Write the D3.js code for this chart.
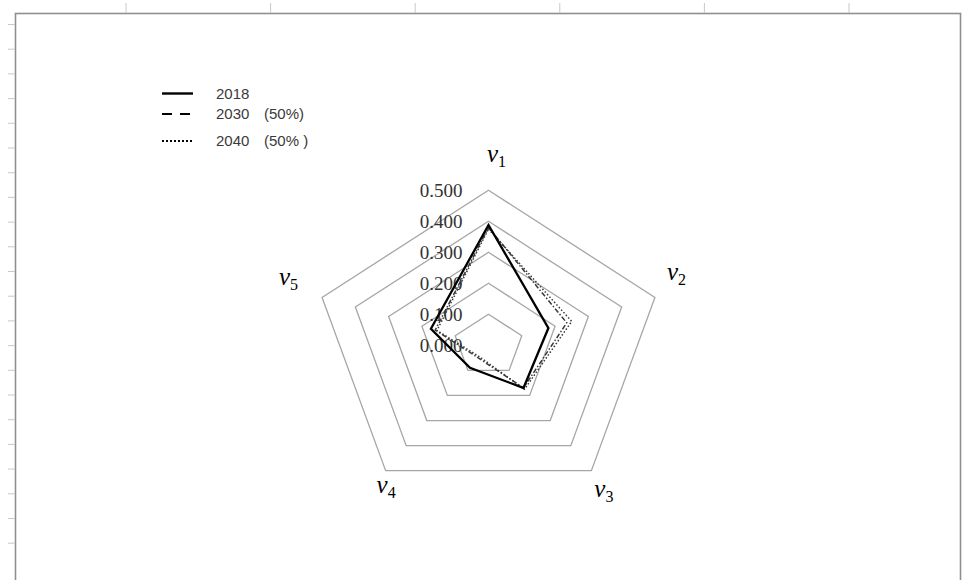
<!DOCTYPE html>
<html>
<head>
<meta charset="utf-8">
<script src="https://cdn.jsdelivr.net/npm/d3@7"></script>
<style>
  body { margin: 0; background: #fff; }
  .tick-label { font-family: "Liberation Serif", serif; font-size: 19px; fill: #333; }
  .axis-label { font-family: "Liberation Serif", serif; fill: #000; }
  .legend-text { font-family: "Liberation Sans", Arial, sans-serif; font-size: 15px; fill: #3a3a3a; }
</style>
</head>
<body>
<div id="radar"></div>
<script>
// data
var axisSubs = ["1", "2", "3", "4", "5"];
var tickValues = [0.1, 0.2, 0.3, 0.4, 0.5];
var tickLabels = ["0.000", "0.100", "0.200", "0.300", "0.400", "0.500"];
var seriesNames = ["2018", "2030", "2040"];
var seriesNotes = ["", "(50%)", "(50% )"];
var values2018 = [0.388, 0.180, 0.170, 0.090, 0.173];
var values2030 = [0.380, 0.235, 0.170, 0.050, 0.160];
var values2040 = [0.375, 0.250, 0.175, 0.045, 0.155];

var width = 965;
var height = 580;
var cx = 488.5, cy = 345.3;

var svg = d3.select("#radar")
  .append("svg")
  .attr("width", width)
  .attr("height", height);

svg.append("rect").attr("width", width).attr("height", height).attr("fill", "#fff");

// sheet frame + ruler ticks
svg.append("rect")
  .attr("x", 15.5).attr("y", 13.5)
  .attr("width", 945).attr("height", 620)
  .attr("fill", "none")
  .attr("stroke", "#8f8f8f")
  .attr("stroke-width", 1.6);

svg.selectAll(".top-tick")
  .data(d3.range(6))
  .enter().append("line")
    .attr("x1", function(d) { return 126 + d * 144.6; })
    .attr("x2", function(d) { return 126 + d * 144.6; })
    .attr("y1", 3).attr("y2", 13)
    .attr("stroke", "#c8c8c8");

svg.selectAll(".left-tick")
  .data(d3.range(22))
  .enter().append("line")
    .attr("x1", 8).attr("x2", 15)
    .attr("y1", function(d) { return 24.5 + d * 24.7; })
    .attr("y2", function(d) { return 24.5 + d * 24.7; })
    .attr("stroke", "#c8c8c8");

// scales (picture is wider than tall)
var rx = d3.scaleLinear().domain([0, 0.5]).range([0, 175]);
var ry = d3.scaleLinear().domain([0, 0.5]).range([0, 155]);
var angle = d3.scaleLinear().domain([0, axisSubs.length]).range([0, 2 * Math.PI]);

function pt(i, v) {
  var a = angle(i);
  return [cx + rx(v) * Math.sin(a), cy - ry(v) * Math.cos(a)];
}

var polyLine = d3.line().curve(d3.curveLinearClosed);

// grid rings
svg.selectAll(".ring")
  .data(tickValues)
  .enter().append("path")
    .attr("d", function(t) { return polyLine(axisSubs.map(function(s, i) { return pt(i, t); })); })
    .attr("fill", "none")
    .attr("stroke", "#a6a6a6")
    .attr("stroke-width", 1.3);

// tick labels along top axis
svg.selectAll(".tick-label")
  .data(tickLabels)
  .enter().append("text")
    .attr("class", "tick-label")
    .attr("x", cx - 26)
    .attr("y", function(d) { return cy - ry(+d); })
    .attr("dy", "0.35em")
    .attr("text-anchor", "end")
    .text(function(d) { return d; });

// series
var series = [
  {name: seriesNames[0], values: values2018, color: "#000", w: 2.3, dash: null},
  {name: seriesNames[1], values: values2030, color: "#3a3a3a", w: 1.5, dash: "5,2,1.5,2"},
  {name: seriesNames[2], values: values2040, color: "#3a3a3a", w: 1.5, dash: "1.5,2"}
];

svg.selectAll(".series")
  .data(series.slice().reverse())
  .enter().append("path")
    .attr("d", function(s) { return polyLine(s.values.map(function(v, i) { return pt(i, v); })); })
    .attr("fill", "none")
    .attr("stroke", function(s) { return s.color; })
    .attr("stroke-width", function(s) { return s.w; })
    .attr("stroke-dasharray", function(s) { return s.dash; })
    .attr("stroke-linejoin", "miter");

// axis labels v1..v5
var labelNudge = [[8, -28, "middle"], [12, -17, "start"], [3, 26, "start"], [10, 22, "end"], [-24, -12, "end"]];
axisSubs.forEach(function(sub, i) {
  var p = pt(i, 0.5);
  var t = svg.append("text")
    .attr("class", "axis-label")
    .attr("x", p[0] + labelNudge[i][0])
    .attr("y", p[1] + labelNudge[i][1])
    .attr("text-anchor", labelNudge[i][2]);
  t.append("tspan").attr("font-style", "italic").attr("font-size", 25).text("v");
  t.append("tspan").attr("font-size", 16).attr("dy", 5).text(sub);
});

// legend
var legendY = [93.5, 114, 141];
var legend = svg.selectAll(".legend")
  .data(series)
  .enter().append("g")
    .attr("transform", function(d, i) { return "translate(0," + legendY[i] + ")"; });

legend.append("line")
  .attr("x1", 162).attr("x2", 193)
  .attr("stroke", "#000")
  .attr("stroke-width", function(d, i) { return i === 0 ? 2.4 : 2; })
  .attr("stroke-dasharray", function(d, i) { return i === 0 ? null : (i === 1 ? "10,8" : "2,2"); });

legend.append("text")
  .attr("class", "legend-text")
  .attr("x", 216)
  .attr("dy", "0.35em")
  .text(function(d) { return d.name; });

legend.append("text")
  .attr("class", "legend-text")
  .attr("x", 264)
  .attr("dy", "0.35em")
  .text(function(d, i) { return seriesNotes[i]; });
</script>
</body>
</html>
